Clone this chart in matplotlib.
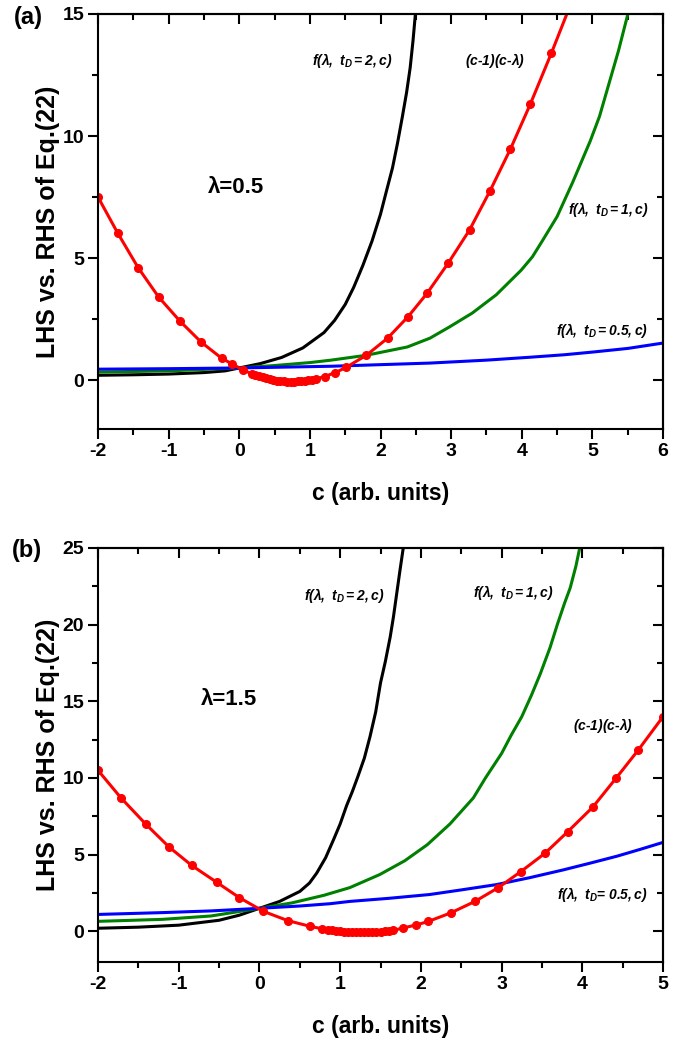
import matplotlib
matplotlib.use("Agg")
import matplotlib.pyplot as plt
from matplotlib.ticker import MultipleLocator

plt.rcParams['font.family'] = ['Liberation Sans', 'DejaVu Sans']
plt.rcParams['font.weight'] = 'bold'
plt.rcParams['axes.unicode_minus'] = False
plt.rcParams['mathtext.fontset'] = 'custom'
plt.rcParams['mathtext.rm'] = 'Liberation Sans:bold:italic'
plt.rcParams['mathtext.it'] = 'Liberation Sans:bold:italic'
plt.rcParams['mathtext.bf'] = 'Liberation Sans:bold:italic'

# ---- panel (a): lambda = 0.5 ----
a_red_c = [-2, -1.72, -1.43, -1.14, -0.84, -0.54, -0.25, -0.1, 0.06,
           0.18, 0.23, 0.28, 0.33, 0.38, 0.43, 0.48, 0.53, 0.58, 0.63,
           0.68, 0.73, 0.78, 0.83, 0.88, 0.93, 0.98, 1.03, 1.08,
           1.21, 1.36, 1.51, 1.8, 2.1, 2.39, 2.66, 2.96, 3.26, 3.55,
           3.84, 4.12, 4.42, 4.72]
a_red_y = [7.5, 6.02, 4.6, 3.4, 2.42, 1.56, 0.9, 0.66, 0.41,
           0.26, 0.2, 0.16, 0.11, 0.07, 0.04, 0.01, -0.02, -0.04, -0.05,
           -0.06, -0.06, -0.06, -0.05, -0.05, -0.03, -0.01, 0.02, 0.05,
           0.15, 0.31, 0.52, 1.02, 1.72, 2.6, 3.56, 4.8, 6.15, 7.75,
           9.47, 11.3, 13.4, 15.6]

a_t2_c = [-2, -1.5, -1, -0.5, -0.2, 0, 0.3, 0.6, 0.9, 1.2, 1.35, 1.5,
          1.62, 1.75, 1.88, 2.0, 2.08, 2.17, 2.24, 2.31, 2.37, 2.42,
          2.46, 2.5]
a_t2_y = [0.2, 0.22, 0.25, 0.31, 0.38, 0.5, 0.68, 0.93, 1.32, 1.95,
          2.45, 3.1, 3.8, 4.7, 5.7, 6.8, 7.7, 8.7, 9.7, 10.8, 11.8, 12.8,
          13.9, 15.2]

a_t1_c = [-2, -1, 0, 0.5, 1.0, 1.3, 1.8, 2.38, 2.7, 2.97, 3.3, 3.64,
          3.99, 4.15, 4.29, 4.5, 4.72, 4.97, 5.1, 5.21, 5.37, 5.52]
a_t1_y = [0.33, 0.38, 0.5, 0.6, 0.72, 0.82, 1.02, 1.36, 1.72, 2.17,
          2.75, 3.5, 4.5, 5.05, 5.7, 6.7, 8.1, 9.8, 10.8, 11.9, 13.5, 15.2]

a_t05_c = [-2, -1, 0, 1.3, 2.7, 3.5, 4.12, 4.6, 5.0, 5.5, 6.0]
a_t05_y = [0.45, 0.47, 0.5, 0.57, 0.7, 0.82, 0.94, 1.04, 1.15, 1.3, 1.52]

# ---- panel (b): lambda = 1.5 ----
b_red_c = [-2, -1.715, -1.41, -1.12, -0.84, -0.53, -0.25, 0.05, 0.35,
           0.63, 0.78, 0.85, 0.9, 0.95, 1.0, 1.05, 1.1, 1.15, 1.2, 1.25,
           1.3, 1.35, 1.4, 1.45, 1.5, 1.55, 1.6, 1.66, 1.78, 1.94, 2.09,
           2.37, 2.67, 2.96, 3.24, 3.54, 3.82, 4.13, 4.42, 4.69, 5.0]
b_red_y = [10.5, 8.7, 7.0, 5.5, 4.3, 3.2, 2.2, 1.3, 0.7,
           0.32, 0.16, 0.1, 0.06, 0.03, 0.0, -0.02, -0.04, -0.05, -0.06,
           -0.06, -0.06, -0.06, -0.05, -0.04, -0.02, 0.0, 0.03, 0.06,
           0.22, 0.41, 0.64, 1.2, 1.95, 2.85, 3.9, 5.1, 6.5, 8.1, 10.0,
           11.8, 14.0]

b_t2_c = [-2, -1.5, -1, -0.5, -0.25, 0, 0.25, 0.5, 0.62, 0.71, 0.82,
          0.92, 1.0, 1.08, 1.15, 1.22, 1.3, 1.37, 1.44, 1.5, 1.56, 1.62,
          1.66, 1.7, 1.74, 1.79]
b_t2_y = [0.2, 0.27, 0.4, 0.72, 1.05, 1.5, 1.95, 2.6, 3.15, 3.8, 4.8,
          6.0, 7.0, 8.2, 9.1, 10.1, 11.3, 12.7, 14.3, 16.2, 17.6, 19.2,
          20.5, 22.0, 23.5, 25.3]

b_t1_c = [-2, -1.2, -0.6, 0, 0.4, 0.8, 1.12, 1.49, 1.8, 2.08, 2.36,
          2.65, 2.8, 3.0, 3.12, 3.25, 3.37, 3.48, 3.6, 3.69, 3.78, 3.85,
          3.92, 3.98]
b_t1_y = [0.65, 0.78, 1.0, 1.5, 1.85, 2.35, 2.85, 3.7, 4.6, 5.65, 7.0,
          8.7, 10.0, 11.6, 12.8, 14.0, 15.4, 16.8, 18.5, 20.0, 21.4, 22.4,
          23.8, 25.3]

b_t05_c = [-2, -1.2, -0.6, 0, 0.5, 0.875, 1.12, 1.6, 2.11, 2.5, 2.94,
           3.35, 3.76, 4.1, 4.43, 4.72, 5.0]
b_t05_y = [1.1, 1.22, 1.33, 1.5, 1.65, 1.8, 1.95, 2.15, 2.4, 2.7, 3.05,
           3.5, 4.0, 4.45, 4.9, 5.35, 5.8]

fig = plt.figure(figsize=(6.95, 10.42), dpi=100)
ax_a = fig.add_axes([0.141, 0.5883, 0.813, 0.3983])
ax_b = fig.add_axes([0.141, 0.0768, 0.813, 0.3973])


def style_axes(ax, xlim, ylim, ymajor, yminor):
    ax.set_xlim(*xlim)
    ax.set_ylim(*ylim)
    ax.xaxis.set_major_locator(MultipleLocator(1))
    ax.xaxis.set_minor_locator(MultipleLocator(0.5))
    ax.yaxis.set_major_locator(MultipleLocator(ymajor))
    ax.yaxis.set_minor_locator(MultipleLocator(yminor))
    for s in ax.spines.values():
        s.set_linewidth(1.5)
    ax.tick_params(which='major', direction='out', length=7, width=1.5,
                   labelsize=14, pad=3)
    ax.tick_params(which='minor', direction='out', length=4, width=1.5)
    for lab in ax.get_xticklabels() + ax.get_yticklabels():
        lab.set_fontweight('bold')
    top = ax.secondary_xaxis('top')
    right = ax.secondary_yaxis('right')
    for sec, axis in ((top, top.xaxis), (right, right.yaxis)):
        axis.set_major_locator(MultipleLocator(1 if sec is top else ymajor))
        axis.set_minor_locator(MultipleLocator(0.5 if sec is top else yminor))
        sec.tick_params(which='major', direction='in', length=7, width=1.5,
                        labeltop=False, labelright=False)
        sec.tick_params(which='minor', direction='in', length=4, width=1.5)
        for s in sec.spines.values():
            s.set_linewidth(1.5)
    ax.set_xlabel('c (arb. units)', fontsize=16.5, fontweight='bold',
                  labelpad=16)
    ax.set_ylabel('LHS vs. RHS of Eq.(22)', fontsize=18, fontweight='bold',
                  labelpad=2)


lw = 2.2
ms = 5.5

ax_a.plot(a_t2_c, a_t2_y, color='black', lw=lw)
ax_a.plot(a_t1_c, a_t1_y, color='#008000', lw=lw)
ax_a.plot(a_t05_c, a_t05_y, color='#0000ff', lw=lw)
ax_a.plot(a_red_c, a_red_y, color='#ff0000', lw=lw, marker='o', ms=ms)
style_axes(ax_a, (-2, 6), (-2, 15), 5, 2.5)

ax_b.plot(b_t2_c, b_t2_y, color='black', lw=lw)
ax_b.plot(b_t1_c, b_t1_y, color='#008000', lw=lw)
ax_b.plot(b_t05_c, b_t05_y, color='#0000ff', lw=lw)
ax_b.plot(b_red_c, b_red_y, color='#ff0000', lw=lw, marker='o', ms=ms)
style_axes(ax_b, (-2, 5), (-2, 25), 5, 2.5)

lab_kw = dict(fontsize=10, ha='left', va='center')
ax_a.text(1.03, 13.1, r'$f(\lambda,\ t_D = 2,c)$', **lab_kw)
ax_a.text(3.2, 13.1, r'$(c$-$1)(c$-$\lambda)$', **lab_kw)
ax_a.text(4.66, 7.0, r'$f(\lambda,\ t_D = 1,c)$', **lab_kw)
ax_a.text(4.48, 2.05, r'$f(\lambda,\ t_D = 0.5,c)$', **lab_kw)
ax_a.text(-0.05, 7.9, 'λ=0.5', fontsize=16, fontweight='bold', ha='center',
          va='center')

ax_b.text(0.55, 21.9, r'$f(\lambda,\ t_D = 2,c)$', **lab_kw)
ax_b.text(2.64, 22.1, r'$f(\lambda,\ t_D = 1,c)$', **lab_kw)
ax_b.text(3.88, 13.4, r'$(c$-$1)(c$-$\lambda)$', **lab_kw)
ax_b.text(3.69, 2.4, r'$f(\lambda,\ t_D$= $0.5,c)$', **lab_kw)
ax_b.text(-0.38, 15.1, 'λ=1.5', fontsize=16, fontweight='bold', ha='center',
          va='center')

fig.text(0.041, 0.983, '(a)', fontsize=17, fontweight='bold', ha='center',
         va='center')
fig.text(0.039, 0.472, '(b)', fontsize=17, fontweight='bold', ha='center',
         va='center')

fig.savefig('out.png', dpi=100)
